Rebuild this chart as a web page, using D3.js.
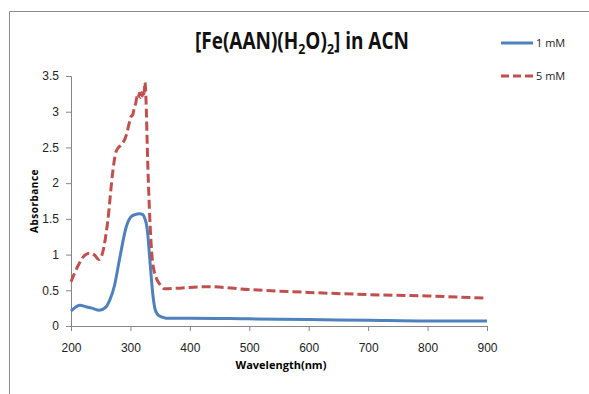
<!DOCTYPE html>
<html>
<head>
<meta charset="utf-8">
<script src="https://cdn.jsdelivr.net/npm/d3@7"></script>
<style>
  body { margin: 0; background: #fff; }
  svg { display: block; font-family: "Open Sans", "Liberation Sans", sans-serif; }
</style>
</head>
<body>
<svg id="chart" width="589" height="394"></svg>
<script>
// wavelength (nm) / absorbance
const wl1 = [200, 207, 215, 225, 235, 248, 258, 265, 273, 282, 293, 301, 308, 315, 321, 324, 327, 329, 332, 335, 338, 341, 345, 349, 355, 360, 400, 500, 600, 700, 800, 900];
const abs1 = [0.21, 0.26, 0.29, 0.27, 0.25, 0.22, 0.26, 0.36, 0.56, 0.95, 1.39, 1.53, 1.56, 1.57, 1.56, 1.51, 1.42, 1.30, 1.0, 0.69, 0.42, 0.25, 0.17, 0.14, 0.12, 0.11, 0.11, 0.10, 0.09, 0.08, 0.07, 0.07];

const wl5 = [200, 211, 223, 231, 240, 247, 253, 262, 270, 275, 280, 284, 293, 298, 301, 304, 307, 309, 311, 313, 315, 317, 319, 320, 322, 323, 324.5, 326, 329, 332, 337, 344, 350, 357, 383, 430, 500, 600, 700, 800, 900];
const abs5 = [0.62, 0.83, 0.99, 1.02, 0.99, 0.93, 1.02, 1.48, 2.14, 2.42, 2.50, 2.53, 2.67, 2.84, 2.93, 2.96, 3.07, 3.12, 3.21, 3.18, 3.26, 3.20, 3.27, 3.22, 3.30, 3.25, 3.41, 3.21, 2.32, 1.62, 0.92, 0.66, 0.58, 0.52, 0.53, 0.55, 0.51, 0.47, 0.44, 0.42, 0.39];

const xTicks = [200, 300, 400, 500, 600, 700, 800, 900];
const yTicks = [0, 0.5, 1, 1.5, 2, 2.5, 3, 3.5];
const seriesNames = ["1 mM", "5 mM"];
const colors = ["#4F81BD", "#C0504D"];

const svg = d3.select("#chart");

// outer chart frame (only top and left edges visible)
svg.append("path")
    .attr("d", "M9.5,394 V11.5 H589")
    .attr("fill", "none")
    .attr("stroke", "#8c8c8c")
    .attr("stroke-width", 1);

const margin = { top: 76, left: 71, right: 102, bottom: 68 };
const width = 589 - margin.left - margin.right;
const height = 394 - margin.top - margin.bottom;

const g = svg.append("g")
    .attr("transform", `translate(${margin.left},${margin.top})`);

const x = d3.scaleLinear().domain([200, 900]).range([0, width]);
const y = d3.scaleLinear().domain([0, 3.5]).range([height, 0]);

// Y axis
const yAxis = g.append("g")
    .call(d3.axisLeft(y).tickValues(yTicks).tickSize(5).tickPadding(7).tickFormat(d3.format("")));
// X axis
const xAxis = g.append("g")
    .attr("transform", `translate(0,${height})`)
    .call(d3.axisBottom(x).tickValues(xTicks).tickSize(5).tickPadding(12));

[yAxis, xAxis].forEach(ax => {
    ax.select(".domain").attr("stroke", "#868686");
    ax.selectAll(".tick line").attr("stroke", "#868686");
    ax.selectAll(".tick text")
        .attr("fill", "#222")
        .style("font-size", "12px");
});

// lines
const line = d3.line()
    .x(d => x(d[0]))
    .y(d => y(d[1]))
    .curve(d3.curveMonotoneX);

g.append("path")
    .datum(wl1.map((w, i) => [w, abs1[i]]))
    .attr("fill", "none")
    .attr("stroke", colors[0])
    .attr("stroke-width", 3)
    .attr("stroke-linejoin", "round")
    .attr("d", line);

g.append("path")
    .datum(wl5.map((w, i) => [w, abs5[i]]))
    .attr("fill", "none")
    .attr("stroke", colors[1])
    .attr("stroke-width", 3)
    .attr("stroke-dasharray", "9,4")
    .attr("d", line);

// axis titles
svg.append("text")
    .attr("x", 281)
    .attr("y", 369)
    .attr("text-anchor", "middle")
    .style("font-size", "11px")
    .style("font-weight", "bold")
    .text("Wavelength(nm)");

svg.append("text")
    .attr("transform", "translate(38,201) rotate(-90)")
    .attr("text-anchor", "middle")
    .style("font-size", "10px")
    .style("font-weight", "bold")
    .style("letter-spacing", "0.5px")
    .text("Absorbance");

// title with subscripts, squeezed horizontally to a Calibri-like width
const titleG = svg.append("g");
const title = titleG.append("text")
    .attr("x", 0)
    .attr("y", 0)
    .style("font-size", "23px")
    .style("font-weight", "bold")
    .attr("fill", "#111");
title.append("tspan").text("[Fe(AAN)(H");
title.append("tspan").attr("dy", 5).style("font-size", "15px").text("2");
title.append("tspan").attr("dy", -5).text("O)");
title.append("tspan").attr("dy", 5).style("font-size", "15px").text("2");
title.append("tspan").attr("dy", -5).text("] in ACN");
const tw = title.node().getComputedTextLength();
titleG.attr("transform", `translate(195,48.5) scale(${214 / tw},1)`);

// legend
const legend = svg.append("g").attr("transform", "translate(501,43)");
seriesNames.forEach((name, i) => {
    const row = legend.append("g").attr("transform", `translate(0,${i * 33})`);
    row.append("line")
        .attr("x1", 0).attr("x2", 32)
        .attr("stroke", colors[i])
        .attr("stroke-width", 3)
        .attr("stroke-dasharray", i === 1 ? "8,4" : null);
    row.append("text")
        .attr("x", 35)
        .attr("y", 4)
        .style("font-size", "11px")
        .attr("fill", "#222")
        .text(name);
});
</script>
</body>
</html>
